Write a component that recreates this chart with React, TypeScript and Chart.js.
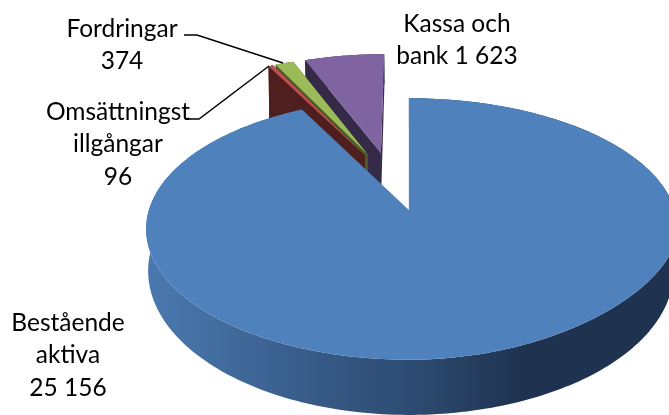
import React, { useEffect, useRef } from "react";
import { Chart, registerables } from "chart.js";

Chart.register(...registerables);

const categories = ["Bestående aktiva", "Omsättningstillgångar", "Fordringar", "Kassa och bank"];
const values = [25156, 96, 374, 1623];
const topColors = ["#4F81BD", "#C0504D", "#9BBB59", "#8064A2"];
const wallColors = ["#2C4A70", "#4E1F1E", "#4B5C2A", "#352A47"];
const wallDepthBoost = [1, 3, 1, 1.25];
const labelLines = [
  ["Bestående", "aktiva", "25 156"],
  ["Omsättningst", "illgångar", "96"],
  ["Fordringar", "374"],
  ["Kassa och", "bank 1 623"],
];
const labelAnchors = [
  [68, 331],
  [118, 120],
  [122, 37],
  [457, 32],
];
const leaderLines = [
  null,
  [[187, 119], [199, 119], [269, 66]],
  [[184, 35], [197, 35], [283, 63]],
  null,
];

const FONT = '24.5px Lato, "Open Sans", sans-serif';
const EXPLODE_PX = 45;
const EXPLODE = 0.245;
const ORIGIN = { x: -0.059, y: -0.238 };
const K = 0.145;
const SMALL_SHIFT_X = -0.011;

function top(X: number, Y: number) {
  const d = 1 - K * Y;
  const a = X > 0 ? 266 : 260;
  const tilt = X > 0 && Y > 0 ? 18 * X * X * Y : 0;
  return [409 + (a * X) / d, 210 + (128 * Y) / d - tilt];
}
function bottom(X: number, Y: number, boost: number) {
  const d = 1 - K * Y;
  const a = X > 0 ? 262 : 258;
  const yTop = 210 + (128 * Y) / d;
  const yBot = 250 + (141 * Y) / d;
  return [409 + (a * X) / d, yTop + (yBot - yTop) * boost];
}

const pie3d = {
  id: "pie3d",
  beforeDatasetsDraw(chart: any) {
    const ctx = chart.ctx as CanvasRenderingContext2D;
    const meta = chart.getDatasetMeta(0);
    const order = [3, 2, 1, 0];
    for (const i of order) {
      const arc = meta.data[i];
      const { startAngle, endAngle } = arc.getProps(["startAngle", "endAngle"], true);
      const mid = (startAngle + endAngle) / 2;
      const shift = i === 0 ? 0 : SMALL_SHIFT_X;
      const cx = ORIGIN.x + EXPLODE * Math.cos(mid) + shift;
      const cy = ORIGIN.y + EXPLODE * Math.sin(mid);
      const steps = Math.max(4, Math.ceil((endAngle - startAngle) / 0.02));
      const outer: number[][] = [];
      for (let s = 0; s <= steps; s++) {
        const a = startAngle + ((endAngle - startAngle) * s) / steps;
        outer.push([cx + Math.cos(a), cy + Math.sin(a)]);
      }
      const boost = wallDepthBoost[i];
      const poly = (pts: number[][], fill: string | CanvasGradient) => {
        ctx.beginPath();
        pts.forEach((p, n) => (n ? ctx.lineTo(p[0], p[1]) : ctx.moveTo(p[0], p[1])));
        ctx.closePath();
        ctx.fillStyle = fill;
        ctx.fill();
      };
      let wallFill: string | CanvasGradient = wallColors[i];
      if (i === 0) {
        const g = ctx.createLinearGradient(146, 0, 669, 0);
        g.addColorStop(0, "#4A79B0");
        g.addColorStop(0.2, "#3F6797");
        g.addColorStop(0.3, "#395C8A");
        g.addColorStop(0.52, "#2C4A70");
        g.addColorStop(0.715, "#1F3350");
        g.addColorStop(1, "#1F3350");
        wallFill = g;
      }
      poly(
        [
          ...outer.map((p) => top(p[0], p[1])),
          ...outer.slice().reverse().map((p) => bottom(p[0], p[1], boost)),
        ],
        wallFill
      );
      const last = outer[outer.length - 1];
      if (i !== 0) {
        poly(
          [top(cx, cy), top(last[0], last[1]), bottom(last[0], last[1], boost), bottom(cx, cy, boost)],
          wallColors[i]
        );
        const first = outer[0];
        poly(
          [top(cx, cy), top(first[0], first[1]), bottom(first[0], first[1], boost), bottom(cx, cy, boost)],
          wallColors[i]
        );
      }
      poly([top(cx, cy), ...outer.map((p) => top(p[0], p[1]))], topColors[i]);
    }
    return false;
  },
  afterDraw(chart: any) {
    const ctx = chart.ctx as CanvasRenderingContext2D;
    ctx.save();
    ctx.strokeStyle = "#000";
    ctx.lineWidth = 1.5;
    for (const l of leaderLines) {
      if (!l) continue;
      ctx.beginPath();
      l.forEach((p, n) => (n ? ctx.lineTo(p[0], p[1]) : ctx.moveTo(p[0], p[1])));
      ctx.stroke();
    }
    ctx.fillStyle = "#000";
    ctx.font = FONT;
    ctx.textAlign = "center";
    ctx.textBaseline = "alphabetic";
    labelLines.forEach((lines, i) => {
      lines.forEach((t, n) => {
        ctx.fillText(t, labelAnchors[i][0], labelAnchors[i][1] + n * 32.3);
      });
    });
    ctx.restore();
  },
};

export default function App() {
  const ref = useRef<HTMLCanvasElement>(null);
  useEffect(() => {
    document.body.style.margin = "0";
    const chart = new Chart(ref.current!, {
      type: "pie",
      data: {
        labels: categories,
        datasets: [{ data: values, backgroundColor: topColors, offset: EXPLODE_PX, borderWidth: 0 }],
      },
      options: {
        animation: false,
        responsive: false,
        rotation: 0,
        plugins: { legend: { display: false }, tooltip: { enabled: false } },
      },
      plugins: [pie3d],
    } as any);
    return () => chart.destroy();
  }, []);
  return <canvas ref={ref} width={669} height={415} style={{ display: "block", width: 669, height: 415 }} />;
}
